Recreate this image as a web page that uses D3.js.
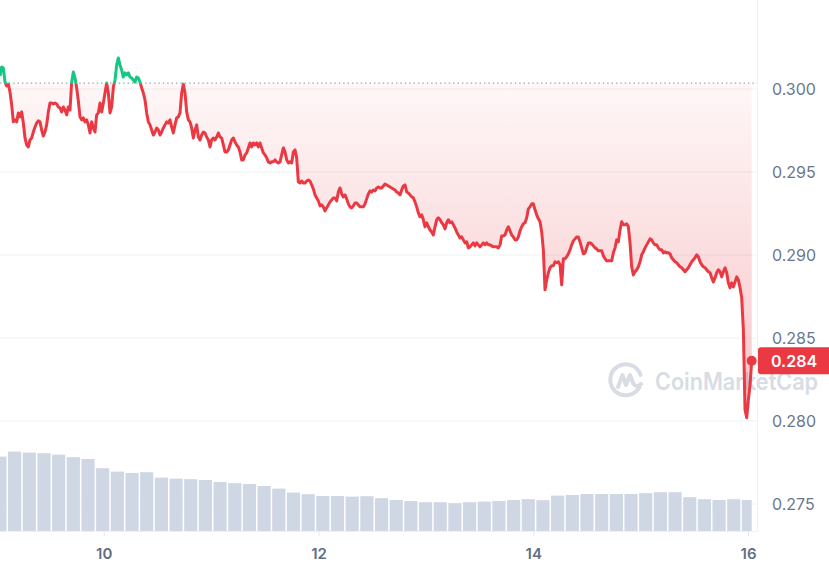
<!DOCTYPE html>
<html><head><meta charset="utf-8">
<script src="https://cdn.jsdelivr.net/npm/d3@7"></script>
<style>html,body{margin:0;padding:0;background:#fff;overflow:hidden}svg{display:block;font-family:Inter,"Noto Sans",sans-serif}</style>
</head><body><svg id="chart" width="829" height="570"></svg>
<script>
// ---------- DATA ----------
const priceStart = "2024-01-09T00:49:00Z";
const priceStepMinutes = 10080 / 451;
const openPrice = 0.30035;
const prices = [
0.30079,0.30133,0.30127,0.30042,0.30018,0.30030,0.29982,0.29904,0.29802,0.29814,0.29802,0.29856,0.29832,0.29862,0.29795,0.29705,0.29663,0.29651,0.29693,0.29705,
0.29741,0.29771,0.29795,0.29808,0.29802,0.29753,0.29717,0.29741,0.29784,0.29862,0.29916,0.29916,0.29910,0.29916,0.29910,0.29892,0.29886,0.29862,0.29892,0.29874,
0.29844,0.29892,0.29874,0.30042,0.30103,0.30066,0.30006,0.29928,0.29832,0.29814,0.29826,0.29802,0.29814,0.29784,0.29735,0.29802,0.29765,0.29741,0.29844,0.29856,
0.29916,0.29862,0.29916,0.29976,0.30036,0.29976,0.29856,0.29892,0.30012,0.30054,0.30145,0.30187,0.30145,0.30115,0.30072,0.30097,0.30085,0.30097,0.30072,0.30066,
0.30054,0.30042,0.30072,0.30066,0.30042,0.30006,0.29976,0.29934,0.29856,0.29802,0.29784,0.29753,0.29723,0.29741,0.29765,0.29753,0.29723,0.29741,0.29765,0.29784,
0.29802,0.29795,0.29814,0.29771,0.29735,0.29784,0.29826,0.29832,0.29856,0.29976,0.30030,0.29976,0.29862,0.29814,0.29802,0.29765,0.29705,0.29753,0.29784,0.29711,
0.29693,0.29723,0.29741,0.29735,0.29711,0.29693,0.29651,0.29693,0.29705,0.29693,0.29711,0.29735,0.29711,0.29705,0.29663,0.29621,0.29621,0.29633,0.29663,0.29693,
0.29705,0.29681,0.29663,0.29651,0.29621,0.29573,0.29573,0.29603,0.29615,0.29645,0.29675,0.29651,0.29675,0.29663,0.29675,0.29651,0.29675,0.29645,0.29615,0.29603,
0.29585,0.29561,0.29555,0.29561,0.29561,0.29573,0.29561,0.29555,0.29561,0.29603,0.29645,0.29621,0.29573,0.29555,0.29561,0.29555,0.29621,0.29633,0.29585,0.29440,
0.29434,0.29446,0.29434,0.29434,0.29446,0.29452,0.29446,0.29422,0.29398,0.29362,0.29344,0.29326,0.29296,0.29302,0.29290,0.29266,0.29284,0.29302,0.29320,0.29332,
0.29344,0.29344,0.29326,0.29380,0.29404,0.29368,0.29350,0.29362,0.29338,0.29308,0.29290,0.29284,0.29296,0.29314,0.29314,0.29302,0.29290,0.29290,0.29290,0.29308,
0.29338,0.29368,0.29386,0.29380,0.29392,0.29386,0.29404,0.29410,0.29404,0.29404,0.29416,0.29428,0.29422,0.29416,0.29410,0.29404,0.29398,0.29392,0.29380,0.29374,
0.29362,0.29392,0.29416,0.29422,0.29380,0.29374,0.29362,0.29350,0.29344,0.29320,0.29290,0.29254,0.29230,0.29242,0.29212,0.29170,0.29194,0.29170,0.29151,0.29139,
0.29121,0.29170,0.29212,0.29224,0.29212,0.29194,0.29182,0.29157,0.29194,0.29212,0.29194,0.29200,0.29182,0.29163,0.29139,0.29121,0.29103,0.29109,0.29091,0.29073,
0.29079,0.29043,0.29049,0.29061,0.29073,0.29055,0.29073,0.29061,0.29049,0.29061,0.29073,0.29061,0.29073,0.29061,0.29061,0.29055,0.29049,0.29049,0.29049,0.29043,
0.29061,0.29115,0.29115,0.29121,0.29151,0.29170,0.29145,0.29121,0.29109,0.29091,0.29091,0.29109,0.29145,0.29170,0.29188,0.29194,0.29224,0.29278,0.29290,0.29308,
0.29308,0.29272,0.29242,0.29218,0.29200,0.29139,0.29031,0.28790,0.28850,0.28893,0.28923,0.28935,0.28935,0.28959,0.28953,0.28959,0.28941,0.28820,0.28977,0.28977,
0.28989,0.29007,0.29031,0.29061,0.29085,0.29097,0.29109,0.29109,0.29079,0.29043,0.29007,0.29013,0.29043,0.29073,0.29073,0.29067,0.29055,0.29043,0.29037,0.29025,
0.29025,0.29025,0.28995,0.28977,0.28965,0.28965,0.28965,0.28965,0.29013,0.29043,0.29091,0.29079,0.29151,0.29200,0.29182,0.29182,0.29188,0.29170,0.29073,0.28929,
0.28880,0.28899,0.28911,0.28929,0.28959,0.29001,0.29019,0.29043,0.29061,0.29079,0.29097,0.29091,0.29073,0.29061,0.29061,0.29043,0.29031,0.29031,0.29013,0.29019,
0.29013,0.29013,0.29007,0.28983,0.28971,0.28959,0.28953,0.28941,0.28929,0.28923,0.28911,0.28899,0.28911,0.28923,0.28941,0.28959,0.28971,0.28983,0.29001,0.28989,
0.28959,0.28941,0.28929,0.28923,0.28911,0.28899,0.28893,0.28862,0.28838,0.28862,0.28893,0.28911,0.28899,0.28868,0.28899,0.28923,0.28893,0.28832,0.28802,0.28832,
0.28808,0.28838,0.28868,0.28850,0.28802,0.28742,0.28549,0.28068,0.28020,0.28128,0.28218,0.28363
];
const volumeStartOffsetHours = -1.65;
const volumeIntervalHours = 3.28;
const volumes = [
37.2,39.7,39.2,38.9,38.2,36.9,36.0,31.4,29.7,29.0,
29.4,26.7,26.2,25.9,25.5,24.5,23.9,23.5,22.5,21.2,
19.2,18.4,17.5,17.5,17.2,17.4,16.4,15.5,15.0,14.4,
14.4,13.9,14.4,14.7,15.0,15.5,15.9,15.4,17.7,18.0,
18.5,18.5,18.5,18.5,18.9,19.4,19.4,16.9,15.9,15.5,
15.9,15.5
];
const yTicks = [0.275, 0.280, 0.285, 0.290, 0.295, 0.300];
const xTickDates = ["2024-01-10", "2024-01-12", "2024-01-14", "2024-01-16"];
const watermarkText = "CoinMarketCap";

// ---------- CHART ----------
const W = 829, H = 570;
const plotRight = 757, volBase = 531;
const RED = "#ea3943", GREEN = "#16c784";
const svg = d3.select("#chart");
const defs = svg.append("defs");

const t0 = new Date(priceStart);
const series = prices.map((p, i) => ({ t: new Date(t0.getTime() + i * priceStepMinutes * 60000), p }));
const tEnd = series[series.length - 1].t;

const x = d3.scaleUtc().domain([t0, tEnd]).range([0, 751.7]);
const y = d3.scaleLinear().domain([0.280, 0.300]).range([421, 89]);
const vy = d3.scaleLinear().domain([0, 40]).range([volBase, 451]);
const yb = y(openPrice);

defs.append("clipPath").attr("id", "plot").append("rect").attr("x", 0).attr("y", 0).attr("width", plotRight).attr("height", H);
defs.append("clipPath").attr("id", "volclip").append("rect").attr("x", 0).attr("y", 0).attr("width", x(tEnd)).attr("height", H);
defs.append("clipPath").attr("id", "above").append("rect").attr("x", 0).attr("y", 0).attr("width", plotRight).attr("height", yb);
defs.append("clipPath").attr("id", "below").append("rect").attr("x", 0).attr("y", yb).attr("width", plotRight).attr("height", H - yb);

const gRed = defs.append("linearGradient").attr("id", "gRed").attr("gradientUnits", "userSpaceOnUse")
  .attr("x1", 0).attr("x2", 0).attr("y1", yb).attr("y2", y(0.280));
gRed.append("stop").attr("offset", 0).attr("stop-color", RED).attr("stop-opacity", 0.04);
gRed.append("stop").attr("offset", 1).attr("stop-color", RED).attr("stop-opacity", 0.30);
const gGreen = defs.append("linearGradient").attr("id", "gGreen").attr("gradientUnits", "userSpaceOnUse")
  .attr("x1", 0).attr("x2", 0).attr("y1", y(0.302)).attr("y2", yb);
gGreen.append("stop").attr("offset", 0).attr("stop-color", GREEN).attr("stop-opacity", 0.12);
gGreen.append("stop").attr("offset", 1).attr("stop-color", GREEN).attr("stop-opacity", 0.02);

// gridlines
svg.append("g").selectAll("line").data(yTicks).join("line")
  .attr("x1", 0).attr("x2", plotRight).attr("y1", d => y(d)).attr("y2", d => y(d))
  .attr("stroke", "#eff2f5").attr("stroke-width", 1);
svg.append("line").attr("x1", plotRight + 0.5).attr("x2", plotRight + 0.5).attr("y1", 0).attr("y2", volBase + 1)
  .attr("stroke", "#eff2f5").attr("stroke-width", 1);

// volume bars
const vt0 = t0.getTime() + volumeStartOffsetHours * 3600000;
const vStep = volumeIntervalHours * 3600000;
svg.append("g").attr("clip-path", "url(#volclip)").selectAll("rect").data(volumes).join("rect")
  .attr("x", (d, i) => x(new Date(vt0 + i * vStep)) + 0.75)
  .attr("width", (d, i) => x(new Date(vt0 + (i + 1) * vStep)) - x(new Date(vt0 + i * vStep)) - 1.5)
  .attr("y", d => vy(d))
  .attr("height", d => volBase - vy(d))
  .attr("fill", "#cfd6e4");
svg.append("line").attr("x1", 0).attr("x2", plotRight).attr("y1", volBase + 0.5).attr("y2", volBase + 0.5)
  .attr("stroke", "#eff2f5");

// x axis
const xAxis = d3.axisBottom(x).tickValues(xTickDates.map(d => new Date(d + "T00:00:00Z")))
  .tickFormat(d => d.getUTCDate()).tickSize(4).tickPadding(12);
const gx = svg.append("g").attr("transform", `translate(0,${volBase + 1})`).call(xAxis);
gx.select(".domain").remove();
gx.selectAll(".tick line").attr("stroke", "#e3e7ee");
gx.selectAll(".tick text").attr("fill", "#616e85").attr("font-size", 15).attr("font-weight", 600)
  .attr("font-family", "Inter, sans-serif");

// y axis labels (right)
const yAxis = d3.axisRight(y).tickValues(yTicks).tickFormat(d3.format(".3f")).tickSize(0).tickPadding(15);
const gy = svg.append("g").attr("transform", `translate(${plotRight},0)`).call(yAxis);
gy.select(".domain").remove();
gy.selectAll(".tick text").attr("fill", "#6b778c").attr("font-size", 16).attr("font-family", "Inter, sans-serif");

// watermark
const wm = svg.append("g").attr("opacity", 0.9);
const lg = wm.append("g").attr("transform", "translate(626,380)");
lg.append("path").attr("d", "M 13.5 7 A 15.5 15.5 0 1 1 14.5 -5")
  .attr("fill", "none").attr("stroke", "#d3d9e3").attr("stroke-width", 4).attr("stroke-linecap", "round");
lg.append("path").attr("d", "M -8 7 L -3.5 -5 L 0 5 L 4 -5 L 7.5 4 Q 10 8 15 4")
  .attr("fill", "none").attr("stroke", "#d3d9e3").attr("stroke-width", 4).attr("stroke-linejoin", "round").attr("stroke-linecap", "round");
wm.append("text").attr("x", 655).attr("y", 390).text(watermarkText)
  .attr("font-size", 24).attr("font-weight", 600).attr("fill", "#d3d9e3")
  .attr("textLength", 163).attr("lengthAdjust", "spacingAndGlyphs");

// areas
const area = d3.area().x(d => x(d.t)).y0(yb).y1(d => y(d.p));
const line = d3.line().x(d => x(d.t)).y(d => y(d.p));
const pg = svg.append("g").attr("clip-path", "url(#plot)");
pg.append("path").datum(series).attr("d", area).attr("fill", "url(#gRed)").attr("clip-path", "url(#below)");
pg.append("path").datum(series).attr("d", area).attr("fill", "url(#gGreen)").attr("clip-path", "url(#above)");

// baseline dotted
pg.append("line").attr("x1", 0).attr("x2", plotRight).attr("y1", yb).attr("y2", yb)
  .attr("stroke", "#9aa3b3").attr("stroke-width", 1.2).attr("stroke-dasharray", "1.4 3");

// lines
pg.append("path").datum(series).attr("d", line).attr("fill", "none").attr("stroke", RED)
  .attr("stroke-width", 3).attr("stroke-linejoin", "round").attr("clip-path", "url(#below)");
pg.append("path").datum(series).attr("d", line).attr("fill", "none").attr("stroke", GREEN)
  .attr("stroke-width", 3).attr("stroke-linejoin", "round").attr("clip-path", "url(#above)");

// last point + tag
const last = series[series.length - 1];
const lastColor = last.p < openPrice ? RED : GREEN;
svg.append("circle").attr("cx", x(last.t)).attr("cy", y(last.p)).attr("r", 5).attr("fill", lastColor);
svg.append("rect").attr("x", plotRight + 1).attr("y", y(last.p) - 13.5).attr("width", 80).attr("height", 27)
  .attr("rx", 3).attr("fill", lastColor);
svg.append("text").attr("x", plotRight + 14).attr("y", y(last.p) + 6).text(last.p.toFixed(3))
  .attr("fill", "#fff").attr("font-size", 16).attr("font-weight", 600).attr("font-family", "Inter, sans-serif");
</script></body></html>
